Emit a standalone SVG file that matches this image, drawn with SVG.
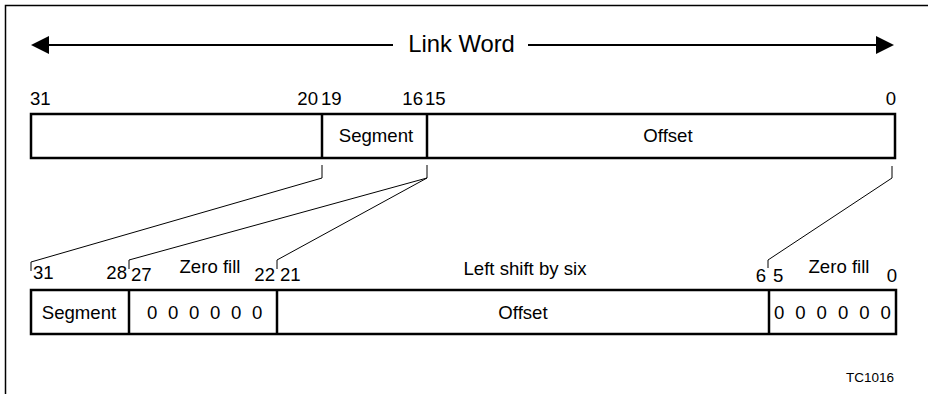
<svg xmlns="http://www.w3.org/2000/svg" width="928" height="394" viewBox="0 0 928 394">
<style>
text{font-family:"Liberation Sans",Arial,sans-serif;fill:#000;font-size:18.6px}
.bar{fill:#fff;stroke:#000;stroke-width:2.5}
.div{stroke:#000;stroke-width:2.5}
.conn{fill:none;stroke:#000;stroke-width:1}
.mid{text-anchor:middle}
.end{text-anchor:end}
</style>
<rect width="928" height="394" fill="#fff"/>
<path d="M5.5 398V5.5H932" fill="none" stroke="#000" stroke-width="1.5"/>
<g id="title">
<line x1="48" y1="45" x2="393" y2="45" stroke="#000" stroke-width="2"/>
<line x1="528" y1="45" x2="877" y2="45" stroke="#000" stroke-width="2"/>
<polygon points="31,45 49,36 49,54" fill="#000"/>
<polygon points="894,45 876,36 876,54" fill="#000"/>
<text x="461.5" y="52" class="mid" style="font-size:23.8px">Link Word</text>
</g>
<g id="top-word">
<rect class="bar" x="31" y="114" width="864" height="44"/>
<line class="div" x1="322" y1="114" x2="322" y2="158"/>
<line class="div" x1="427" y1="114" x2="427" y2="158"/>
<text x="376" y="142" class="mid">Segment</text>
<text x="668" y="142" class="mid">Offset</text>
<text x="30" y="105">31</text>
<text x="318" y="105" class="end">20</text>
<text x="321" y="105">19</text>
<text x="423" y="105" class="end">16</text>
<text x="425" y="105">15</text>
<text x="896" y="105" class="end">0</text>
</g>
<g id="connectors">
<polyline class="conn" points="322,165 322,178 31,262 31,271"/>
<polyline class="conn" points="427,165 427,178 129,260 129,269"/>
<polyline class="conn" points="427,178 277,260 277,269"/>
<polyline class="conn" points="892,166 892,178 768,260 768,268"/>
</g>
<g id="bottom-word">
<rect class="bar" x="31" y="290" width="865" height="44"/>
<line class="div" x1="129" y1="290" x2="129" y2="334"/>
<line class="div" x1="277" y1="290" x2="277" y2="334"/>
<line class="div" x1="769" y1="290" x2="769" y2="334"/>
<text x="79" y="319" class="mid">Segment</text>
<text x="147 168 189 210 231 252" y="319">000000</text>
<text x="523" y="319" class="mid">Offset</text>
<text x="774 795.3 816.6 837.9 859.2 880.5" y="319">000000</text>
<text x="33" y="279">31</text>
<text x="127" y="279" class="end">28</text>
<text x="131" y="281">27</text>
<text x="210" y="273" class="mid">Zero fill</text>
<text x="275" y="281" class="end">22</text>
<text x="280" y="281">21</text>
<text x="525" y="275" class="mid">Left shift by six</text>
<text x="766" y="282" class="end">6</text>
<text x="773" y="282">5</text>
<text x="839" y="273" class="mid">Zero fill</text>
<text x="897" y="282" class="end">0</text>
<text x="894" y="382" class="end" style="font-size:13.5px">TC1016</text>
</g>
</svg>
